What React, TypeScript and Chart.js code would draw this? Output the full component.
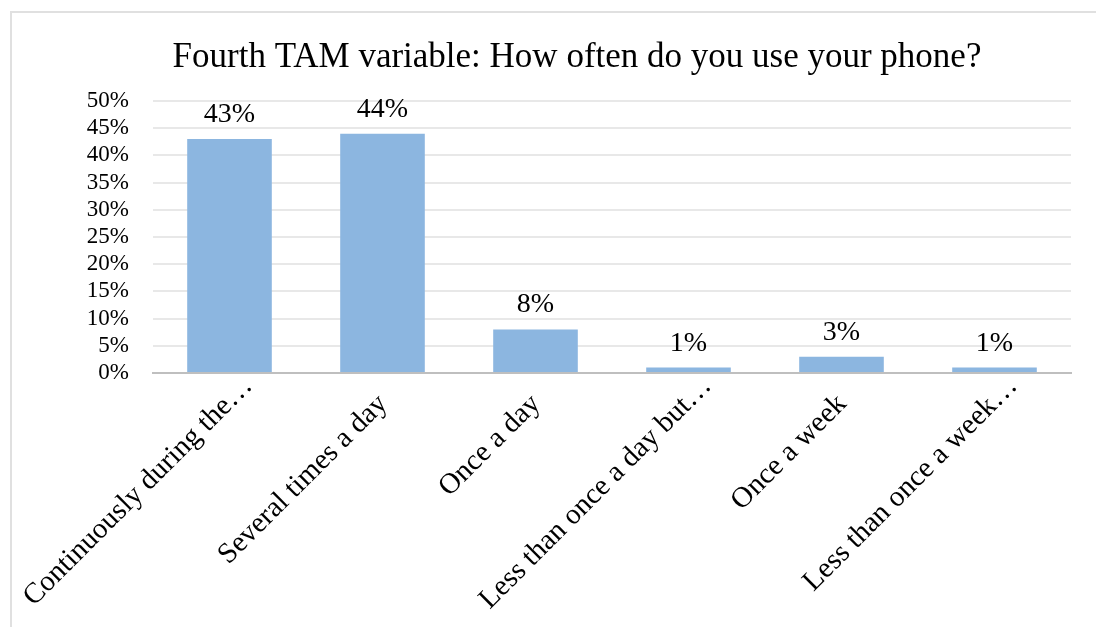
import React, { useEffect, useRef } from "react";
import { Chart, registerables } from "chart.js";

Chart.register(...registerables);

const categories = [
  "Continuously during the…",
  "Several times a day",
  "Once a day",
  "Less than once a day but…",
  "Once a week",
  "Less than once a week…",
];
const shares = [43, 44, 8, 1, 3, 1];
const axisMax = 50;
const axisStep = 5;
const titleText = "Fourth TAM variable: How often do you use your phone?";

const SERIF = "'Liberation Serif', 'Times New Roman', Times, serif";
const BAR_BLUE = "#8cb6e0";

// Percent labels above each bar
const valueLabels = {
  id: "valueLabels",
  afterDatasetsDraw(chart: any) {
    const { ctx } = chart;
    const meta = chart.getDatasetMeta(0);
    ctx.save();
    ctx.font = `28px ${SERIF}`;
    ctx.fillStyle = "#000";
    ctx.textAlign = "center";
    ctx.textBaseline = "alphabetic";
    meta.data.forEach((bar: any, i: number) => {
      ctx.fillText(`${shares[i]}%`, bar.x, bar.y - 17);
    });
    ctx.restore();
  },
};

// Category names at 45°, anchored at their right end next to each category centre.
// Truncated names (ending in "…") sit a little higher and further right.
const slantedCategoryLabels = {
  id: "slantedCategoryLabels",
  afterDraw(chart: any) {
    const { ctx } = chart;
    const xScale = chart.scales.x;
    const base = xScale.top;
    ctx.save();
    ctx.font = `29px ${SERIF}`;
    ctx.fillStyle = "#000";
    ctx.textAlign = "right";
    ctx.textBaseline = "alphabetic";
    categories.forEach((name, i) => {
      const cx = xScale.getPixelForValue(i);
      const truncated = name.endsWith("…");
      const dx = truncated ? 24 : 6;
      const dy = truncated ? 14 : 32;
      ctx.save();
      ctx.translate(cx + dx, base + dy);
      ctx.rotate(-Math.PI / 4);
      ctx.fillText(name, 0, 0);
      ctx.restore();
    });
    ctx.restore();
  },
};

export default function App() {
  const canvasRef = useRef<HTMLCanvasElement | null>(null);

  useEffect(() => {
    const canvas = canvasRef.current;
    if (!canvas) return;
    const chart = new Chart(canvas, {
      type: "bar",
      data: {
        labels: categories,
        datasets: [
          {
            data: shares,
            backgroundColor: BAR_BLUE,
            borderWidth: 0,
            barPercentage: 0.553,
            categoryPercentage: 1,
          },
        ],
      },
      options: {
        responsive: false,
        animation: false,
        devicePixelRatio: 1,
        layout: { padding: { left: 83, right: 25, top: 37, bottom: 0 } },
        plugins: {
          legend: { display: false },
          tooltip: { enabled: false },
          title: {
            display: true,
            text: titleText,
            color: "#000",
            font: { family: SERIF, size: 35, weight: "normal", lineHeight: 1.2 },
            padding: { top: 0, bottom: 22 },
          },
        },
        scales: {
          x: {
            grid: { display: false, drawTicks: false },
            border: { display: true, color: "#bfbfbf", width: 2 },
            ticks: { display: false },
            afterFit(scale: any) {
              scale.height = 254;
              scale.paddingLeft = 0;
              scale.paddingRight = 0;
            },
          },
          y: {
            min: 0,
            max: axisMax,
            grid: { color: "#e8e8e8", lineWidth: 2, drawTicks: false },
            border: { display: false },
            ticks: {
              stepSize: axisStep,
              autoSkip: false,
              padding: 24,
              color: "#000",
              font: { family: SERIF, size: 23 },
              callback: (v: any) => `${v}%`,
            },
            afterFit(scale: any) {
              scale.width = 70;
              scale.paddingTop = 0;
              scale.paddingBottom = 0;
            },
          },
        },
      },
      plugins: [valueLabels, slantedCategoryLabels],
    });
    return () => chart.destroy();
  }, []);

  return (
    <div style={{ position: "fixed", left: 0, top: 0, width: 1096, height: 627, background: "#fff", overflow: "hidden" }}>
      <div
        style={{
          position: "absolute",
          left: 10,
          top: 11,
          width: 1200,
          height: 700,
          borderTop: "2px solid #e0e0e0",
          borderLeft: "2px solid #e0e0e0",
        }}
      />
      <canvas ref={canvasRef} width={1096} height={627} style={{ position: "absolute", left: 0, top: 0 }} />
    </div>
  );
}
